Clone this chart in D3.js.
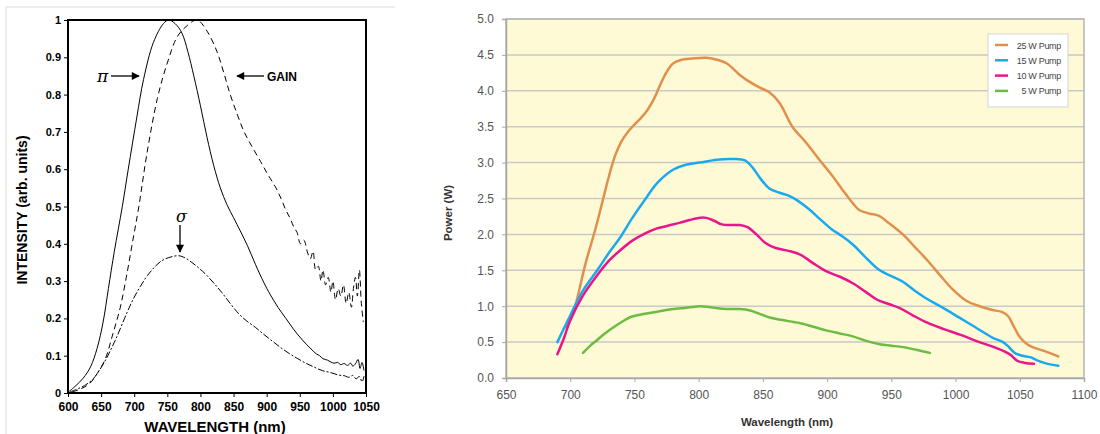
<!DOCTYPE html>
<html><head><meta charset="utf-8">
<script src="https://cdn.jsdelivr.net/npm/d3@7"></script>
<style>body{margin:0;background:#fff}svg{display:block}</style>
</head><body>
<svg id="c" width="1100" height="434"></svg>
<script>
// ---------- LEFT CHART DATA ----------
const leftXTicks = [600,650,700,750,800,850,900,950,1000,1050];
const leftYTicks = [0,0.1,0.2,0.3,0.4,0.5,0.6,0.7,0.8,0.9,1];
const piSeries = [[601,0.003],[612,0.02],[623,0.04],[634,0.07],[644,0.12],[653,0.19],[661,0.28],[670,0.38],[682,0.5],[691,0.6],[704,0.74],[714,0.84],[729,0.94],[744,0.99],[752,1.0],[762,0.99],[772,0.965],[781,0.915],[790,0.85],[800,0.77],[810,0.685],[820,0.61],[830,0.55],[840,0.505],[850,0.47],[860,0.435],[871,0.395],[883,0.345],[896,0.295],[905,0.265],[917,0.23],[929,0.2],[941,0.17],[954,0.142],[967,0.118],[975,0.105],[980,0.1],[985,0.092],[992,0.088],[997,0.083],[1002,0.08],[1007,0.082],[1012,0.076],[1017,0.079],[1022,0.074],[1027,0.08],[1030,0.072],[1034,0.078],[1038,0.09],[1041,0.066],[1044,0.082],[1047,0.06]];
const gainSeries = [[606,0.003],[618,0.01],[633,0.026],[645,0.055],[656,0.09],[668,0.16],[679,0.23],[688,0.31],[697,0.4],[707,0.5],[719,0.64],[735,0.79],[750,0.885],[765,0.955],[780,0.985],[795,1.0],[810,0.97],[825,0.915],[835,0.86],[845,0.8],[856,0.745],[866,0.7],[878,0.66],[891,0.62],[902,0.585],[914,0.55],[922,0.52],[929,0.49],[935,0.47],[941,0.445],[946,0.43],[951,0.4],[956,0.41],[962,0.375],[966,0.36],[970,0.38],[974,0.33],[978,0.34],[982,0.3],[985,0.33],[989,0.29],[993,0.31],[997,0.27],[1000,0.3],[1004,0.25],[1008,0.28],[1012,0.26],[1016,0.29],[1020,0.24],[1024,0.27],[1028,0.23],[1031,0.28],[1034,0.31],[1037,0.26],[1040,0.33],[1043,0.24],[1046,0.19]];
const sigmaSeries = [[603,0.003],[613,0.01],[625,0.02],[638,0.038],[654,0.08],[671,0.14],[689,0.215],[698,0.25],[709,0.285],[720,0.315],[732,0.34],[742,0.355],[752,0.363],[767,0.368],[777,0.362],[787,0.35],[797,0.336],[807,0.32],[820,0.295],[832,0.27],[845,0.24],[858,0.212],[870,0.193],[883,0.176],[895,0.158],[908,0.14],[921,0.122],[934,0.106],[946,0.093],[959,0.08],[971,0.07],[984,0.06],[996,0.055],[1009,0.048],[1018,0.046],[1024,0.042],[1030,0.047],[1035,0.038],[1040,0.044],[1044,0.03],[1047,0.045]];

// ---------- RIGHT CHART DATA ----------
const rightXTicks = [650,700,750,800,850,900,950,1000,1050,1100];
const rightYTicks = [0,0.5,1,1.5,2,2.5,3,3.5,4,4.5,5];
const pumpLabels = ["25 W Pump","15 W Pump","10 W Pump","5 W Pump"];
const pumpColors = ["#e0904c","#1ba9ee","#e8168c","#6cbb44"];
const pump25 = [[697,0.7],[703,0.95],[712,1.6],[720,2.1],[725,2.45],[730,2.8],[735,3.1],[740,3.3],[745,3.43],[750,3.53],[755,3.62],[760,3.73],[765,3.88],[770,4.08],[775,4.26],[780,4.38],[786,4.43],[795,4.45],[806,4.46],[815,4.43],[822,4.38],[832,4.22],[840,4.12],[848,4.04],[855,3.98],[863,3.83],[873,3.5],[884,3.27],[894,3.04],[903,2.84],[912,2.62],[918,2.48],[925,2.34],[933,2.29],[940,2.26],[948,2.16],[959,2.0],[968,1.83],[978,1.64],[988,1.43],[998,1.23],[1008,1.08],[1017,1.01],[1028,0.95],[1036,0.92],[1041,0.86],[1045,0.73],[1050,0.57],[1055,0.48],[1060,0.43],[1070,0.37],[1080,0.3]];
const pump15 = [[690,0.5],[700,0.87],[710,1.22],[721,1.5],[730,1.74],[739,1.96],[748,2.22],[758,2.48],[768,2.72],[780,2.9],[790,2.97],[801,3.0],[814,3.04],[827,3.05],[836,3.03],[842,2.93],[848,2.78],[855,2.64],[863,2.58],[870,2.54],[877,2.47],[886,2.35],[894,2.22],[903,2.08],[912,1.97],[920,1.86],[930,1.68],[941,1.5],[950,1.42],[959,1.34],[968,1.22],[978,1.1],[990,0.98],[1003,0.84],[1016,0.7],[1029,0.56],[1037,0.5],[1041,0.44],[1046,0.35],[1052,0.31],[1058,0.29],[1063,0.25],[1071,0.2],[1080,0.17]];
const pump10 = [[690,0.33],[695,0.55],[700,0.8],[710,1.15],[721,1.43],[730,1.63],[739,1.78],[749,1.92],[758,2.01],[767,2.08],[776,2.12],[785,2.16],[793,2.2],[800,2.23],[806,2.23],[812,2.19],[818,2.14],[824,2.13],[832,2.13],[838,2.1],[845,2.0],[852,1.88],[860,1.81],[870,1.77],[879,1.72],[889,1.6],[900,1.48],[910,1.41],[920,1.32],[930,1.2],[939,1.09],[948,1.03],[957,0.97],[967,0.87],[978,0.77],[991,0.68],[1004,0.6],[1017,0.51],[1030,0.43],[1038,0.37],[1043,0.32],[1048,0.24],[1054,0.21],[1061,0.2]];
const pump5 = [[710,0.35],[715,0.44],[721,0.53],[727,0.62],[734,0.71],[741,0.79],[747,0.85],[757,0.89],[767,0.92],[776,0.95],[786,0.97],[795,0.99],[801,1.0],[808,0.99],[815,0.97],[822,0.96],[832,0.96],[840,0.94],[848,0.89],[856,0.84],[864,0.81],[874,0.78],[880,0.76],[890,0.71],[900,0.66],[910,0.62],[920,0.58],[930,0.52],[941,0.47],[950,0.45],[959,0.43],[970,0.39],[980,0.35]];
const pumpSeries = [pump25, pump15, pump10, pump5];

const svg = d3.select("#c");

// ================= LEFT CHART =================
const L = {x0:68, x1:366, y0:20, y1:393};
const lx = d3.scaleLinear().domain([600,1050]).range([L.x0,L.x1]);
const ly = d3.scaleLinear().domain([0,1]).range([L.y1,L.y0]);
const lg = svg.append("g");

lg.append("line").attr("x1",6).attr("x2",395).attr("y1",7).attr("y2",7).attr("stroke","#dcdcdc");
lg.append("line").attr("x1",6).attr("x2",6).attr("y1",7).attr("y2",434).attr("stroke","#dcdcdc");

const lfont = "Liberation Sans, Arial, sans-serif";
const lyAxis = lg.append("g").attr("transform",`translate(${L.x0},0)`)
  .call(d3.axisLeft(ly).tickValues(leftYTicks).tickSize(4).tickPadding(3)
    .tickFormat(d => d===0||d===1 ? d3.format("d")(d) : d3.format(".1f")(d)));
const lxAxis = lg.append("g").attr("transform",`translate(0,${L.y1})`)
  .call(d3.axisBottom(lx).tickValues(leftXTicks).tickSize(4).tickPadding(5).tickFormat(d3.format("d")));
[lyAxis,lxAxis].forEach(a=>{
  a.select(".domain").remove();
  a.selectAll("line").attr("stroke","#000");
  a.selectAll("text").attr("font-family",lfont).attr("font-weight","bold").attr("font-size",11).attr("fill","#000");
});
lxAxis.selectAll("text").attr("font-size",12);

const lline = d3.line().x(d=>lx(d[0])).y(d=>ly(d[1])).curve(d3.curveCatmullRom.alpha(0.5));
lg.append("path").datum(piSeries).attr("d",lline).attr("fill","none").attr("stroke","#000").attr("stroke-width",1);
lg.append("path").datum(gainSeries).attr("d",lline).attr("fill","none").attr("stroke","#000").attr("stroke-width",1).attr("stroke-dasharray","6,4");
lg.append("path").datum(sigmaSeries).attr("d",lline).attr("fill","none").attr("stroke","#000").attr("stroke-width",1).attr("stroke-dasharray","7,2,2,2");

lg.append("rect").attr("x",L.x0).attr("y",L.y0).attr("width",L.x1-L.x0).attr("height",L.y1-L.y0)
  .attr("fill","none").attr("stroke","#000").attr("stroke-width",2);

const defs = svg.append("defs");
defs.append("marker").attr("id","ah").attr("viewBox","0 0 10 10").attr("refX",9).attr("refY",5)
  .attr("markerWidth",9).attr("markerHeight",8).attr("markerUnits","userSpaceOnUse").attr("orient","auto")
  .append("path").attr("d","M0,0L10,5L0,10Z").attr("fill","#000");
lg.append("text").attr("x",97).attr("y",82).text("π").attr("font-family","DejaVu Serif, serif").attr("font-style","italic").attr("font-size",17);
lg.append("line").attr("x1",111).attr("x2",139).attr("y1",76).attr("y2",76).attr("stroke","#000").attr("stroke-width",1.3).attr("marker-end","url(#ah)");
lg.append("line").attr("x1",264).attr("x2",237).attr("y1",76).attr("y2",76).attr("stroke","#000").attr("stroke-width",1.3).attr("marker-end","url(#ah)");
lg.append("text").attr("x",267).attr("y",81).text("GAIN").attr("font-family",lfont).attr("font-weight","bold").attr("font-size",12);
lg.append("text").attr("x",176).attr("y",222).text("σ").attr("font-family","DejaVu Serif, serif").attr("font-style","italic").attr("font-size",16);
lg.append("line").attr("x1",180).attr("x2",180).attr("y1",225).attr("y2",252).attr("stroke","#000").attr("stroke-width",1.3).attr("marker-end","url(#ah)");

lg.append("text").attr("x",215).attr("y",432).attr("text-anchor","middle").text("WAVELENGTH (nm)")
  .attr("font-family",lfont).attr("font-weight","bold").attr("font-size",15);
lg.append("text").attr("transform","translate(27,210) rotate(-90)").attr("text-anchor","middle").text("INTENSITY (arb. units)")
  .attr("font-family",lfont).attr("font-weight","bold").attr("font-size",14);

// ================= RIGHT CHART =================
const R = {x0:506, x1:1084, y0:19, y1:378};
const rx = d3.scaleLinear().domain([650,1100]).range([R.x0,R.x1]);
const ry = d3.scaleLinear().domain([0,5]).range([R.y1,R.y0]);
const rg = svg.append("g");
const rfont = "Liberation Sans, Arial, sans-serif";

rg.append("rect").attr("x",R.x0).attr("y",R.y0).attr("width",R.x1-R.x0).attr("height",R.y1-R.y0).attr("fill","#fffad6");
rg.append("g").selectAll("line").data(rightYTicks.filter(d=>d>0)).join("line")
  .attr("x1",R.x0).attr("x2",R.x1).attr("y1",d=>ry(d)).attr("y2",d=>ry(d))
  .attr("stroke","#c9c9c9").attr("stroke-width",1.5);
rg.append("rect").attr("x",R.x0).attr("y",R.y0).attr("width",R.x1-R.x0).attr("height",R.y1-R.y0)
  .attr("fill","none").attr("stroke","#b5b5b5").attr("stroke-width",1.5);

const ryAxis = rg.append("g").attr("transform",`translate(${R.x0},0)`)
  .call(d3.axisLeft(ry).tickValues(rightYTicks).tickSize(4).tickPadding(8).tickFormat(d3.format(".1f")));
const rxAxis = rg.append("g").attr("transform",`translate(0,${R.y1})`)
  .call(d3.axisBottom(rx).tickValues(rightXTicks).tickSize(4).tickPadding(8).tickFormat(d3.format("d")));
[ryAxis,rxAxis].forEach(a=>{
  a.select(".domain").attr("stroke","#a8a8a8").attr("stroke-width",1.5);
  a.selectAll("line").attr("stroke","#a8a8a8");
  a.selectAll("text").attr("font-family",rfont).attr("font-size",12).attr("fill","#555");
});

const rline = d3.line().x(d=>rx(d[0])).y(d=>ry(d[1])).curve(d3.curveCatmullRom.alpha(0.5));
rg.append("g").selectAll("path").data(pumpSeries).join("path")
  .attr("d",rline).attr("fill","none").attr("stroke",(d,i)=>pumpColors[i]).attr("stroke-width",2.5)
  .attr("stroke-linecap","round").attr("stroke-linejoin","round");

const leg = rg.append("g");
leg.append("rect").attr("x",988).attr("y",34).attr("width",80).attr("height",73).attr("fill","#fff").attr("stroke","#d3d3d3");
pumpLabels.forEach((lab,i)=>{
  const y = 45 + i*15.3;
  leg.append("line").attr("x1",995).attr("x2",1008).attr("y1",y).attr("y2",y).attr("stroke",pumpColors[i]).attr("stroke-width",2.5);
  leg.append("text").attr("x",1061).attr("y",y+3.5).attr("text-anchor","end").text(lab)
    .attr("font-family",rfont).attr("font-size",9).attr("fill","#444").attr("letter-spacing","-0.3");
});

rg.append("text").attr("x",787).attr("y",426).attr("text-anchor","middle").text("Wavelength (nm)")
  .attr("font-family",rfont).attr("font-weight","bold").attr("font-size",11.5).attr("fill","#333");
rg.append("text").attr("transform","translate(452,213) rotate(-90)").attr("text-anchor","middle").text("Power (W)")
  .attr("font-family",rfont).attr("font-weight","bold").attr("font-size",11.5).attr("fill","#333");
</script>
</body></html>
